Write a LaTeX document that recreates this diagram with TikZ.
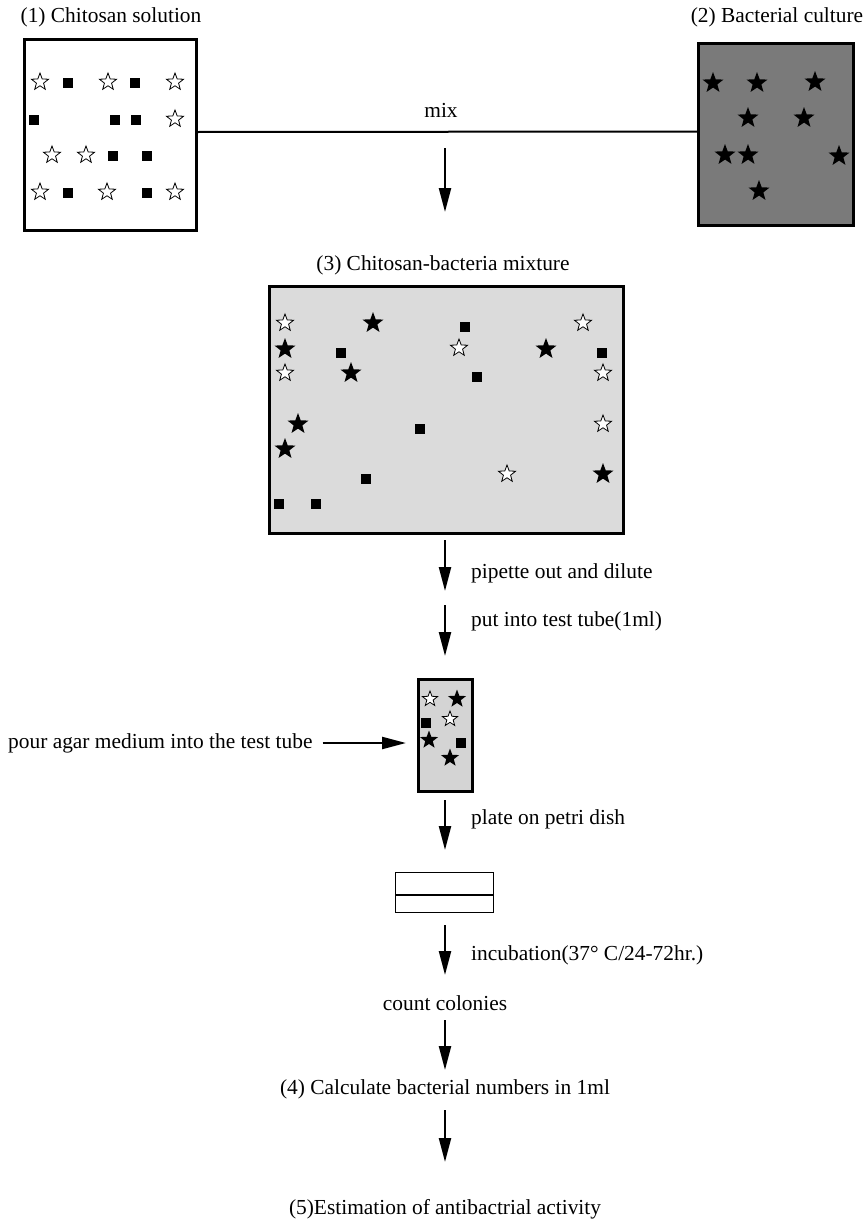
\documentclass[tikz,border=0pt]{standalone}
\usepackage{fontspec}
\setmainfont{Liberation Serif}
\usetikzlibrary{shapes.geometric,arrows.meta}
\tikzset{
  lbl/.style={font=\fontsize{21.4}{25}\selectfont, inner sep=0pt},
  ostar/.style={star, star points=5, star point ratio=2.4, draw=black, line width=0.8pt, fill=white, minimum size=18pt, inner sep=0pt},
  fstar/.style={star, star points=5, star point ratio=2.4, fill=black, minimum size=22pt, inner sep=0pt},
  sq/.style={fill=black, minimum size=10.5pt, inner sep=0pt},
  frame/.style={draw=black, line width=3pt, inner sep=0pt, anchor=north west},
  flow/.style={line width=2.3pt, -{Triangle[width=12pt,length=24pt]}},
}
\begin{document}
\begin{tikzpicture}[x=1pt,y=-1pt]
\fill[white] (0,0) rectangle (864,1231);
\useasboundingbox (0,0) rectangle (864,1231);

% titles
\node[lbl] (t1) at (111,17) {(1) Chitosan solution};
\node[lbl] (t2) at (777,17) {(2) Bacterial culture};
\node[lbl] (t3) at (443,265) {(3) Chitosan-bacteria mixture};

% box 1
\node[frame, minimum width=172pt, minimum height=191pt] (b1) at (23,38) {};
\foreach \x/\y [count=\i] in {40/82,108/82,175/82,175/119,52/155,86/155,40/192,107/192,175/192}
  \node[ostar] (bo\i) at (\x,\y) {};
\foreach \x/\y [count=\i] in {68/83,135/83,34/120,115/120,136/120,113/156,147/156,68/193,147/193}
  \node[sq] (bs\i) at (\x,\y) {};

% box 2
\node[frame, fill=black!52, minimum width=155pt, minimum height=182pt] (b2) at (697,42) {};
\foreach \x/\y [count=\i] in {713/83,757/83,815/82,748/118,804/118,725/155,748/155,839/156,759/191}
  \node[fstar] (cf\i) at (\x,\y) {};

% mix
\draw[line width=2pt] ([yshift=3pt]b1.east) -- ([yshift=3pt]b2.west);
\node[lbl] (mix) at (441,110) {mix};
\coordinate (a1s) at (445,148);
\coordinate (a1e) at (445,212);
\draw[flow] (a1s) -- (a1e);

% box 3
\node[frame, fill=black!14, minimum width=354pt, minimum height=247pt] (b3) at (268,285) {};
\foreach \x/\y [count=\i] in {285/323,583/323,459/348,285/373,603/373,603/424,507/474}
  \node[ostar] (mo\i) at (\x,\y) {};
\foreach \x/\y [count=\i] in {373/323,285/349,546/349,351/373,298/424,285/449,603/474}
  \node[fstar] (mf\i) at (\x,\y) {};
\foreach \x/\y [count=\i] in {465/327,341/353,602/353,477/377,420/429,366/479,279/504,316/504}
  \node[sq] (ms\i) at (\x,\y) {};

% steps
\coordinate (a2s) at (445,540);
\coordinate (a2e) at (445,591);
\draw[flow] (a2s) -- (a2e);
\node[lbl, anchor=west] (l2) at (471,573) {pipette out and dilute};
\coordinate (a3s) at (445,605);
\coordinate (a3e) at (445,656);
\draw[flow] (a3s) -- (a3e);
\node[lbl, anchor=west] (l3) at (471,621) {put into test tube(1ml)};

% test tube
\node[frame, fill=black!17, minimum width=54pt, minimum height=112pt] (tube) at (417,678) {};
\foreach \x/\y [count=\i] in {430/699,450/719}
  \node[ostar, minimum size=16pt] (to\i) at (\x,\y) {};
\foreach \x/\y [count=\i] in {457/699,429/740,450/758}
  \node[fstar, minimum size=19pt] (tf\i) at (\x,\y) {};
\foreach \x/\y [count=\i] in {426/723,461/743}
  \node[sq] (ts\i) at (\x,\y) {};

\node[lbl, anchor=west] (pour) at (8,743) {pour agar medium into the test tube};
\coordinate (a4e) at (406,743);
\draw[flow] ([xshift=10pt]pour.east) -- (a4e);

\coordinate (a5s) at (445,800);
\coordinate (a5e) at (445,850);
\draw[flow] (a5s) -- (a5e);
\node[lbl, anchor=west] (l5) at (471,819) {plate on petri dish};

% petri dish
\node[draw=black, line width=1.2pt, inner sep=0pt, anchor=north west, minimum width=98pt, minimum height=40pt] (dish) at (395,872) {};
\draw[line width=1.2pt] (dish.west |- 0,895) -- (dish.east |- 0,895);

\coordinate (a6s) at (445,925);
\coordinate (a6e) at (445,975);
\draw[flow] (a6s) -- (a6e);
\node[lbl, anchor=west] (l6) at (471,955) {incubation(37\textdegree\ C/24-72hr.)};

\node[lbl] (cc) at (445,1003) {count colonies};
\coordinate (a7s) at (445,1020);
\coordinate (a7e) at (445,1070);
\draw[flow] (a7s) -- (a7e);
\node[lbl] (c4) at (445,1089) {(4) Calculate bacterial numbers in 1ml};
\coordinate (a8s) at (445,1110);
\coordinate (a8e) at (445,1162);
\draw[flow] (a8s) -- (a8e);
\node[lbl] (c5) at (445,1209) {(5)Estimation of antibactrial activity};
\end{tikzpicture}
\end{document}
